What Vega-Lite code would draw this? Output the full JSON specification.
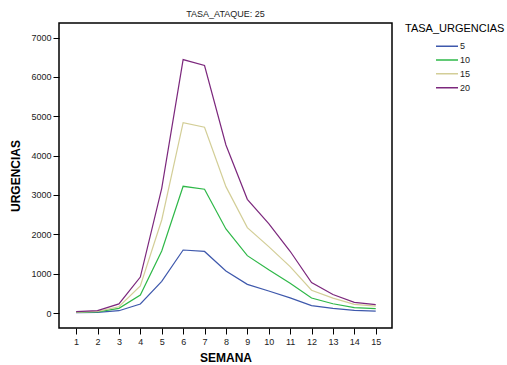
{
  "$schema": "https://vega.github.io/schema/vega-lite/v6.json",
  "width": 333,
  "height": 305,
  "autosize": {"type": "none"},
  "padding": {"left": 59, "top": 23, "right": 115, "bottom": 37},
  "background": "white",
  "config": {
    "font": "Liberation Sans",
    "view": {"stroke": "#000", "strokeWidth": 1.5},
    "axis": {"grid": false, "domain": false, "tickColor": "#000", "tickSize": 6, "labelColor": "#222", "labelFontSize": 9, "titleColor": "#000", "titleFontSize": 12, "titleFontWeight": "bold"}
  },
  "title": {"text": "TASA_ATAQUE: 25", "fontSize": 9, "fontWeight": "normal", "color": "#222", "offset": 4, "font": "Liberation Sans"},
  "data": {"values": [
    {"semana": 1, "tasa": "5", "urgencias": 8},
    {"semana": 2, "tasa": "5", "urgencias": 15},
    {"semana": 3, "tasa": "5", "urgencias": 59},
    {"semana": 4, "tasa": "5", "urgencias": 229},
    {"semana": 5, "tasa": "5", "urgencias": 805},
    {"semana": 6, "tasa": "5", "urgencias": 1602},
    {"semana": 7, "tasa": "5", "urgencias": 1565},
    {"semana": 8, "tasa": "5", "urgencias": 1068},
    {"semana": 9, "tasa": "5", "urgencias": 729},
    {"semana": 10, "tasa": "5", "urgencias": 560},
    {"semana": 11, "tasa": "5", "urgencias": 385},
    {"semana": 12, "tasa": "5", "urgencias": 190},
    {"semana": 13, "tasa": "5", "urgencias": 120},
    {"semana": 14, "tasa": "5", "urgencias": 70},
    {"semana": 15, "tasa": "5", "urgencias": 50},
    {"semana": 1, "tasa": "10", "urgencias": 15},
    {"semana": 2, "tasa": "10", "urgencias": 28},
    {"semana": 3, "tasa": "10", "urgencias": 119},
    {"semana": 4, "tasa": "10", "urgencias": 458},
    {"semana": 5, "tasa": "10", "urgencias": 1576},
    {"semana": 6, "tasa": "10", "urgencias": 3221},
    {"semana": 7, "tasa": "10", "urgencias": 3145},
    {"semana": 8, "tasa": "10", "urgencias": 2136},
    {"semana": 9, "tasa": "10", "urgencias": 1458},
    {"semana": 10, "tasa": "10", "urgencias": 1100},
    {"semana": 11, "tasa": "10", "urgencias": 760},
    {"semana": 12, "tasa": "10", "urgencias": 381},
    {"semana": 13, "tasa": "10", "urgencias": 237},
    {"semana": 14, "tasa": "10", "urgencias": 136},
    {"semana": 15, "tasa": "10", "urgencias": 110},
    {"semana": 1, "tasa": "15", "urgencias": 25},
    {"semana": 2, "tasa": "15", "urgencias": 42},
    {"semana": 3, "tasa": "15", "urgencias": 160},
    {"semana": 4, "tasa": "15", "urgencias": 690},
    {"semana": 5, "tasa": "15", "urgencias": 2365},
    {"semana": 6, "tasa": "15", "urgencias": 4839},
    {"semana": 7, "tasa": "15", "urgencias": 4721},
    {"semana": 8, "tasa": "15", "urgencias": 3212},
    {"semana": 9, "tasa": "15", "urgencias": 2170},
    {"semana": 10, "tasa": "15", "urgencias": 1687},
    {"semana": 11, "tasa": "15", "urgencias": 1178},
    {"semana": 12, "tasa": "15", "urgencias": 580},
    {"semana": 13, "tasa": "15", "urgencias": 380},
    {"semana": 14, "tasa": "15", "urgencias": 220},
    {"semana": 15, "tasa": "15", "urgencias": 178},
    {"semana": 1, "tasa": "20", "urgencias": 34},
    {"semana": 2, "tasa": "20", "urgencias": 60},
    {"semana": 3, "tasa": "20", "urgencias": 232},
    {"semana": 4, "tasa": "20", "urgencias": 915},
    {"semana": 5, "tasa": "20", "urgencias": 3170},
    {"semana": 6, "tasa": "20", "urgencias": 6440},
    {"semana": 7, "tasa": "20", "urgencias": 6290},
    {"semana": 8, "tasa": "20", "urgencias": 4271},
    {"semana": 9, "tasa": "20", "urgencias": 2890},
    {"semana": 10, "tasa": "20", "urgencias": 2270},
    {"semana": 11, "tasa": "20", "urgencias": 1570},
    {"semana": 12, "tasa": "20", "urgencias": 775},
    {"semana": 13, "tasa": "20", "urgencias": 470},
    {"semana": 14, "tasa": "20", "urgencias": 271},
    {"semana": 15, "tasa": "20", "urgencias": 212}
  ]},
  "mark": {"type": "line", "strokeWidth": 1.2},
  "encoding": {
    "x": {"field": "semana", "type": "quantitative", "title": "SEMANA",
      "scale": {"domain": [0.2, 15.76], "nice": false, "zero": false},
      "axis": {"values": [1,2,3,4,5,6,7,8,9,10,11,12,13,14,15], "format": "d", "labelPadding": 3, "titlePadding": 6}},
    "y": {"field": "urgencias", "type": "quantitative", "title": "URGENCIAS",
      "scale": {"domain": [-380, 7370], "nice": false, "zero": false},
      "axis": {"values": [0,1000,2000,3000,4000,5000,6000,7000], "format": "d", "labelPadding": 2, "titlePadding": 8}},
    "color": {"field": "tasa", "type": "ordinal", "title": "TASA_URGENCIAS",
      "sort": ["5", "10", "15", "20"],
      "scale": {"domain": ["5", "10", "15", "20"], "range": ["#3E58AC", "#2EB848", "#D3CE97", "#7C287D"]},
      "legend": {"orient": "right", "offset": 13, "titleFontSize": 11, "titleFontWeight": "normal", "titleColor": "#000", "labelFontSize": 9, "labelColor": "#222", "symbolType": "stroke", "symbolSize": 484, "symbolStrokeWidth": 1.5, "symbolOffset": 30, "labelOffset": 1, "clipHeight": 11.5, "rowPadding": 1.8, "titlePadding": 6.5}}
  }
}
